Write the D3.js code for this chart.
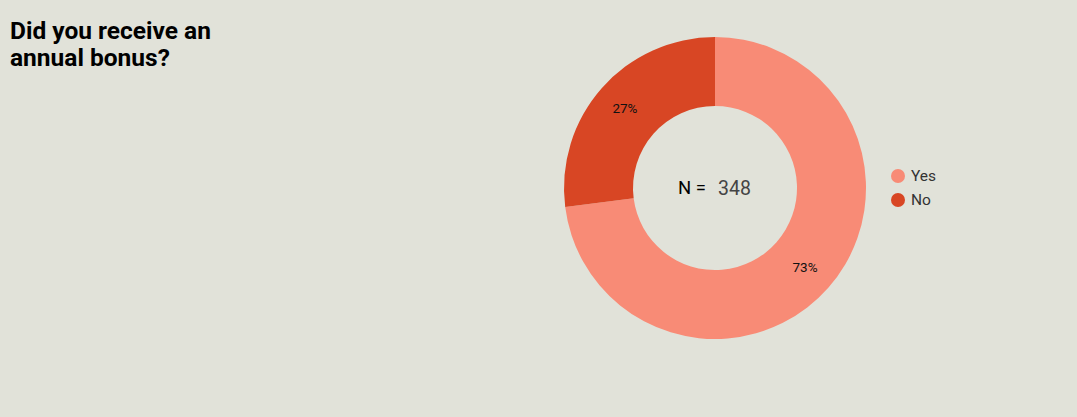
<!DOCTYPE html>
<html>
<head>
<meta charset="utf-8">
<script src="https://cdn.jsdelivr.net/npm/d3@7"></script>
<style>
  html, body { margin: 0; padding: 0; background: #E1E2D9; }
  svg { display: block; font-family: Roboto, "Noto Sans", sans-serif; }
</style>
</head>
<body>
<svg id="chart" width="1077" height="417"></svg>
<script>
const categories = ["Yes", "No"];
const values = [254, 94];
const colors = ["#F88B76", "#D84624"];
const titleLines = ["Did you receive an", "annual bonus?"];
const totalLabel = "348";

const svg = d3.select("#chart");
svg.append("rect").attr("width", 1077).attr("height", 417).attr("fill", "#E1E2D9");

const title = svg.append("text")
  .attr("x", 10).attr("y", 39)
  .attr("font-size", 24.5).attr("font-weight", 700).attr("fill", "#000");
titleLines.forEach((t, i) => {
  title.append("tspan").attr("x", 10).attr("dy", i === 0 ? 0 : 27).text(t);
});

const cx = 715, cy = 188, rOuter = 151, rInner = 82;
const color = d3.scaleOrdinal().domain(categories).range(colors);
const pie = d3.pie().sort(null).value(d => d.value);
const data = categories.map((c, i) => ({ cat: c, value: values[i] }));
const arcs = pie(data);
const arc = d3.arc().innerRadius(rInner).outerRadius(rOuter);
const labelArc = d3.arc().innerRadius(120).outerRadius(120);
const total = d3.sum(values);

const g = svg.append("g").attr("transform", `translate(${cx},${cy})`);
g.selectAll("path").data(arcs).enter().append("path")
  .attr("d", arc)
  .attr("fill", d => color(d.data.cat));

g.selectAll("text.pct").data(arcs).enter().append("text")
  .attr("class", "pct")
  .attr("transform", d => `translate(${labelArc.centroid(d)})`)
  .attr("text-anchor", "middle")
  .attr("dy", "0.35em")
  .attr("font-size", 13.5)
  .attr("fill", "#111")
  .text(d => Math.round(d.data.value / total * 100) + "%");

g.append("text").attr("x", -9).attr("y", 6).attr("text-anchor", "end")
  .attr("font-size", 18.5).attr("fill", "#000").text("N =");
g.append("text").attr("x", 3).attr("y", 7).attr("text-anchor", "start")
  .attr("font-size", 19.5).attr("fill", "#444").text(totalLabel);

const legend = svg.append("g").attr("transform", "translate(898,176)");
categories.forEach((c, i) => {
  const row = legend.append("g").attr("transform", `translate(0,${i * 24})`);
  row.append("circle").attr("r", 7).attr("fill", color(c));
  row.append("text").attr("x", 13).attr("dy", "0.35em")
    .attr("font-size", 15.5).attr("fill", "#333").text(c);
});
</script>
</body>
</html>
